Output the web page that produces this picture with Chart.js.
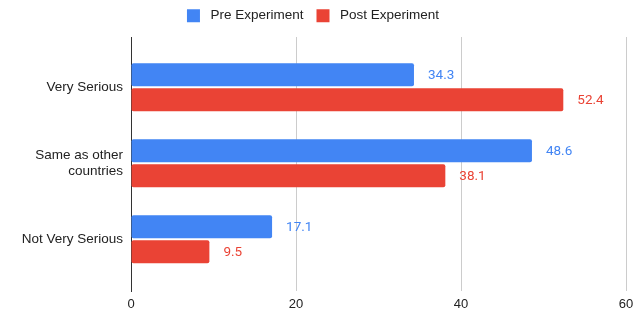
<!DOCTYPE html>
<html>
<head>
<meta charset="utf-8">
<script src="https://cdn.jsdelivr.net/npm/chart.js@4/dist/chart.umd.min.js"></script>
<style>
  html, body { margin: 0; padding: 0; background: #fff; }
  #wrap { width: 644px; height: 316px; }
</style>
</head>
<body>
<div id="wrap"><canvas id="chart"></canvas></div>
<script>
// chart data
const categories = [["Very Serious"], ["Same as other", "countries"], ["Not Very Serious"]];
const preValues = [34.3, 48.6, 17.1];
const postValues = [52.4, 38.1, 9.5];
const xTicks = [0, 20, 40, 60];

const BLUE = "#4285F4";
const RED = "#EA4335";
const FONT = "'Liberation Sans', Arial, sans-serif";

// value labels at the end of each bar
const barLabels = {
    id: "barLabels",
    afterDatasetsDraw(chart) {
        const ctx = chart.ctx;
        ctx.save();
        ctx.font = "13.5px Roboto, 'Liberation Sans', sans-serif";
        ctx.textBaseline = "middle";
        ctx.textAlign = "left";
        chart.data.datasets.forEach((ds, i) => {
            ctx.fillStyle = ds.backgroundColor;
            chart.getDatasetMeta(i).data.forEach((bar, j) => {
                ctx.fillText(ds.data[j].x.toFixed(1), bar.x + 14, bar.y + 1);
            });
        });
        ctx.restore();
    }
};

// fixed room for the legend, drawn a little higher
const legendRoom = {
    id: "legendRoom",
    beforeInit(chart) {
        const lg = chart.legend;
        const fit = lg.fit;
        lg.fit = function () {
            fit.call(lg);
            this.height = 37;
        };
        const draw = lg.draw;
        lg.draw = function () {
            const ctx = chart.ctx;
            ctx.save();
            ctx.translate(0, -4);
            draw.apply(lg, arguments);
            ctx.restore();
        };
    }
};

const toPoints = arr => arr.map((v, i) => ({ x: v, y: i }));

new Chart(document.getElementById("chart"), {
    type: "bar",
    data: {
        datasets: [
            { label: " Pre Experiment", data: toPoints(preValues), backgroundColor: BLUE },
            { label: " Post Experiment", data: toPoints(postValues), backgroundColor: RED }
        ]
    },
    options: {
        indexAxis: "y",
        responsive: true,
        maintainAspectRatio: false,
        animation: false,
        layout: { padding: { left: 0, right: 18, top: 0, bottom: 0 } },
        datasets: {
            bar: { categoryPercentage: 0.658, barPercentage: 0.92, borderRadius: 2, borderSkipped: false }
        },
        plugins: {
            legend: {
                position: "top",
                labels: {
                    boxWidth: 13,
                    boxHeight: 13,
                    padding: 13,
                    color: "#222",
                    font: { family: FONT, size: 13.5 }
                }
            },
            tooltip: { enabled: false }
        },
        scales: {
            x: {
                type: "linear",
                min: 0,
                max: 60,
                afterBuildTicks: s => { s.ticks = xTicks.map(v => ({ value: v })); },
                afterFit: s => { s.height = 25; },
                grid: { color: "#cccccc", drawTicks: false },
                border: { display: false },
                ticks: {
                    padding: 6,
                    color: "#222",
                    font: { family: FONT, size: 13 }
                }
            },
            y: {
                type: "linear",
                offset: false,
                reverse: true,
                min: -0.66,
                max: 2.68,
                afterBuildTicks: s => { s.ticks = categories.map((c, i) => ({ value: i })); },
                afterFit: s => { s.width = 131; },
                grid: { display: false, drawTicks: false },
                border: { display: true, color: "#333", width: 1 },
                ticks: {
                    padding: 8,
                    color: "#222",
                    font: { family: FONT, size: 13.5 },
                    callback: v => categories[v]
                }
            }
        }
    },
    plugins: [barLabels, legendRoom]
});
</script>
</body>
</html>
